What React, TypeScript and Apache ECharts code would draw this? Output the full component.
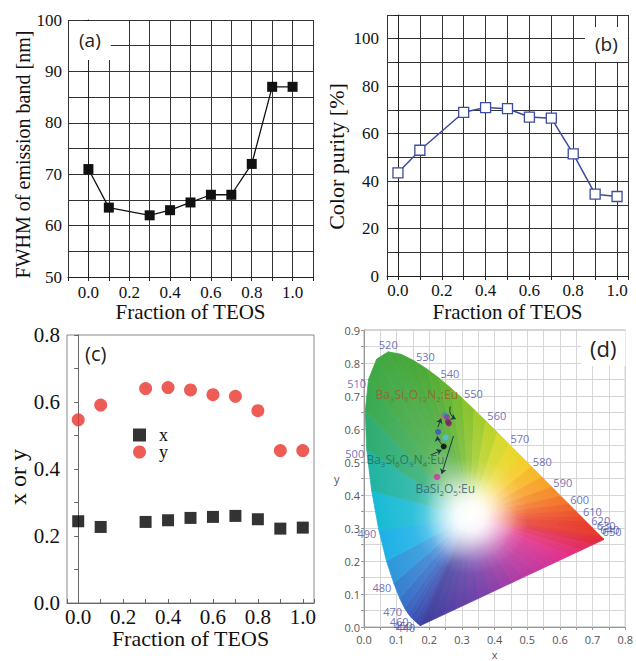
import React, { useEffect, useRef } from 'react';
import * as echarts from 'echarts';

// ---------- data: panels (a)-(c) ----------
const teos = [0.0, 0.1, 0.3, 0.4, 0.5, 0.6, 0.7, 0.8, 0.9, 1.0];
const fwhm = [71, 63.5, 62, 63, 64.5, 66, 66, 72, 87, 87];
const colorPurity = [43.5, 53, 69, 71, 70.5, 67, 66.5, 51.5, 34.5, 33.5];
const cieX = [0.244, 0.227, 0.242, 0.247, 0.254, 0.257, 0.26, 0.25, 0.222, 0.225];
const cieY = [0.547, 0.591, 0.64, 0.643, 0.636, 0.622, 0.617, 0.574, 0.455, 0.455];
const pointColors = ['#000000', '#3f4fc2', '#e8645c', '#1fa3a8', '#8c3c9e', '#7a2a78', '#8a1c5c', '#45c6ee', '#c24aa2', '#c24aa2'];

// ---------- tick labels ----------
const fracTicks = [0.0, 0.2, 0.4, 0.6, 0.8, 1.0];
const fwhmTicks = [50, 60, 70, 80, 90, 100];
const purityTicks = [0, 20, 40, 60, 80, 100];
const xyTicks = [0.0, 0.2, 0.4, 0.6, 0.8];
const cieXTicks = [0.0, 0.1, 0.2, 0.3, 0.4, 0.5, 0.6, 0.7, 0.8];
const cieYTicks = [0.0, 0.1, 0.2, 0.3, 0.4, 0.5, 0.6, 0.7, 0.8, 0.9];

// ---------- CIE 1931 spectral locus ----------
const wavelengths = [380, 400, 420, 440, 450, 460, 465, 470, 475, 480, 485, 490, 495, 500, 505, 510, 515, 520, 525, 530, 535, 540, 545, 550, 555, 560, 565, 570, 575, 580, 585, 590, 595, 600, 605, 610, 615, 620, 625, 630, 635, 640, 645, 650, 660, 680, 700];
const locusX = [0.1741, 0.1733, 0.1714, 0.1644, 0.1566, 0.1440, 0.1355, 0.1241, 0.1096, 0.0913, 0.0687, 0.0454, 0.0235, 0.0082, 0.0039, 0.0139, 0.0389, 0.0743, 0.1142, 0.1547, 0.1929, 0.2296, 0.2658, 0.3016, 0.3373, 0.3731, 0.4087, 0.4441, 0.4788, 0.5125, 0.5448, 0.5752, 0.6029, 0.6270, 0.6482, 0.6658, 0.6801, 0.6915, 0.7006, 0.7079, 0.7140, 0.7190, 0.7230, 0.7260, 0.7300, 0.7334, 0.7347];
const locusY = [0.0050, 0.0048, 0.0051, 0.0109, 0.0177, 0.0297, 0.0399, 0.0578, 0.0868, 0.1327, 0.2007, 0.2950, 0.4127, 0.5384, 0.6548, 0.7502, 0.8120, 0.8338, 0.8262, 0.8059, 0.7816, 0.7543, 0.7243, 0.6923, 0.6589, 0.6245, 0.5896, 0.5547, 0.5202, 0.4866, 0.4544, 0.4242, 0.3965, 0.3725, 0.3514, 0.3340, 0.3197, 0.3083, 0.2993, 0.2920, 0.2859, 0.2809, 0.2770, 0.2740, 0.2700, 0.2666, 0.2653];
const leftWl = [440, 450, 460, 470, 480, 490, 500, 510];
const topWl = [520];
const rightWl = [530, 540, 550, 560, 570, 580, 590, 600, 610, 620, 630, 640, 650];

// ---------- annotations in panel (d) ----------
const compoundText = [
  '{m|Ba}{s|3}{m|Si}{s|6}{m|O}{s|12}{m|N}{s|2}{m|:Eu}',
  '{m|Ba}{s|3}{m|Si}{s|6}{m|O}{s|9}{m|N}{s|4}{m|:Eu}',
  '{m|BaSi}{s|2}{m|O}{s|5}{m|:Eu}',
];
const compoundX = [0.037, 0.009, 0.159];
const compoundY = [0.702, 0.506, 0.419];
const compoundColors = ['#9c5a2c', '#1d6b58', '#2c5866'];
const arrowFrom = [[0.204, 0.521], [0.238, 0.554], [0.226, 0.605], [0.264, 0.668], [0.274, 0.579]];
const arrowTo = [[0.238, 0.536], [0.224, 0.578], [0.236, 0.632], [0.281, 0.630], [0.238, 0.464]];
const arrowCurve = [0, 0.2, 0, -0.4, 0];

// ---------- styles ----------
const SERIF = 'Liberation Serif, Times New Roman, serif';
const SANS = 'Open Sans, Noto Sans, sans-serif';
const whitePoint = [0.325, 0.335];
const whiteRadiusPx = 58;
const purpleSteps = 16;
const specAnchors: [number, string][] = [
  [380, '#3a3e9c'], [440, '#3b48aa'], [460, '#3a58b8'], [470, '#3868c4'], [480, '#3488d4'],
  [485, '#26a6e2'], [490, '#16bcea'], [495, '#1cb8c0'], [500, '#26ae86'], [505, '#34aa5c'],
  [510, '#3ea844'], [530, '#46a838'], [540, '#58b032'], [550, '#7cbe2c'], [560, '#aed02a'],
  [570, '#e4dc2c'], [578, '#f6cc2a'], [585, '#f8ae2a'], [595, '#f4802a'], [605, '#ee5a2a'],
  [620, '#e63a2a'], [700, '#e02a2a'],
];
const purpleAnchors: [number, string][] = [
  [0, '#e22a34'], [0.2, '#e2308c'], [0.45, '#b43ca4'], [0.7, '#6e42aa'], [1, '#3a3e9c'],
];

function hexToRgb(h: string) {
  const n = parseInt(h.slice(1), 16);
  return [(n >> 16) & 255, (n >> 8) & 255, n & 255];
}
function mixRgb(a: number[], b: number[], t: number) {
  return a.map((v, i) => v + (b[i] - v) * t);
}
function rgbStr(c: number[]) {
  return `rgb(${c.map((v) => Math.round(v)).join(',')})`;
}
function anchorColor(anchors: [number, string][], v: number) {
  for (let k = 0; k < anchors.length - 1; k++) {
    const [w0, c0] = anchors[k];
    const [w1, c1] = anchors[k + 1];
    if (v >= w0 && v <= w1) return mixRgb(hexToRgb(c0), hexToRgb(c1), (v - w0) / (w1 - w0));
  }
  return hexToRgb(anchors[anchors.length - 1][1]);
}
function fanStops(c: number[]) {
  const w = [255, 255, 255];
  return [
    { offset: 0, color: rgbStr(mixRgb(w, c, 0.35)) },
    { offset: 0.45, color: rgbStr(mixRgb(w, c, 0.86)) },
    { offset: 1, color: rgbStr(c) },
  ];
}
function foot(W: number[], A: number[], B: number[]) {
  const dx = B[0] - A[0];
  const dy = B[1] - A[1];
  const L = dx * dx + dy * dy;
  if (L < 9) return [(A[0] + B[0]) / 2, (A[1] + B[1]) / 2];
  const t = ((W[0] - A[0]) * dx + (W[1] - A[1]) * dy) / L;
  return [A[0] + t * dx, A[1] + t * dy];
}
const tickFmt = (ticks: number[], digits: number) => (v: number) =>
  ticks.some((t) => Math.abs(t - v) < 1e-6) ? v.toFixed(digits) : '';

// rendering segments of the horseshoe boundary (spectral locus + line of purples)
type Seg = { a: number[]; b: number[]; c: number[] };
function buildSegments(): Seg[] {
  const segs: Seg[] = [];
  const n = wavelengths.length;
  for (let i = 0; i < n - 1; i++) {
    segs.push({
      a: [locusX[i], locusY[i]],
      b: [locusX[i + 1], locusY[i + 1]],
      c: anchorColor(specAnchors, (wavelengths[i] + wavelengths[i + 1]) / 2),
    });
  }
  const red = [locusX[n - 1], locusY[n - 1]];
  const violet = [locusX[0], locusY[0]];
  for (let k = 0; k < purpleSteps; k++) {
    const t0 = k / purpleSteps;
    const t1 = (k + 1) / purpleSteps;
    segs.push({
      a: [red[0] + (violet[0] - red[0]) * t0, red[1] + (violet[1] - red[1]) * t0],
      b: [red[0] + (violet[0] - red[0]) * t1, red[1] + (violet[1] - red[1]) * t1],
      c: anchorColor(purpleAnchors, (t0 + t1) / 2),
    });
  }
  return segs;
}

function wlSeries(list: number[], label: any) {
  return {
    type: 'scatter', xAxisIndex: 3, yAxisIndex: 3, z: 6, silent: true,
    symbolSize: 1, itemStyle: { color: 'rgba(0,0,0,0)' },
    data: list.map((w) => {
      const i = wavelengths.indexOf(w);
      return [locusX[i], locusY[i], w];
    }),
    label: {
      show: true, formatter: (p: any) => String(p.value[2]),
      fontFamily: SANS, fontSize: 11, color: '#4b4bab', ...label,
    },
  };
}

function buildOption(): any {
  const segs = buildSegments();
  const serifAxis = (size: number) => ({ fontFamily: SERIF, fontSize: size, color: '#111' });

  const fieldSeries = {
    type: 'custom',
    xAxisIndex: 3,
    yAxisIndex: 3,
    z: 1,
    silent: true,
    data: [...segs.map((s) => s.a), whitePoint],
    renderItem: (params: any, api: any) => {
      const W = api.coord(whitePoint);
      if (params.dataIndex >= segs.length) {
        const glow = new echarts.graphic.RadialGradient(W[0], W[1], whiteRadiusPx, [
          { offset: 0, color: 'rgba(255,255,255,1)' },
          { offset: 0.25, color: 'rgba(255,255,255,0.9)' },
          { offset: 0.55, color: 'rgba(255,255,255,0.45)' },
          { offset: 0.8, color: 'rgba(255,255,255,0.12)' },
          { offset: 1, color: 'rgba(255,255,255,0)' },
        ], true);
        return { type: 'circle', shape: { cx: W[0], cy: W[1], r: whiteRadiusPx }, style: { fill: glow } };
      }
      const s = segs[params.dataIndex];
      const A = api.coord(s.a);
      const B = api.coord(s.b);
      const F = foot(W, A, B);
      const grad = new echarts.graphic.LinearGradient(W[0], W[1], F[0], F[1], fanStops(s.c), true);
      return {
        type: 'polygon',
        shape: { points: [W, A, B] },
        style: { fill: grad, stroke: grad, lineWidth: 0.8 },
      };
    },
  };

  return {
    animation: false,
    backgroundColor: '#ffffff',
    title: [
      { text: '(a)', left: 69, top: 21, backgroundColor: '#fff', padding: [9, 10, 11, 10], textStyle: { fontFamily: SANS, fontSize: 19, fontWeight: 'normal', color: '#222' } },
      { text: '(b)', left: 585, top: 27, backgroundColor: '#fff', padding: [7, 10, 9, 10], textStyle: { fontFamily: SANS, fontSize: 19, fontWeight: 'normal', color: '#222' } },
      { text: '(c)', left: 80, top: 338, textStyle: { fontFamily: SANS, fontSize: 20, fontWeight: 'normal', color: '#222' } },
      { text: '(d)', left: 581, top: 331, backgroundColor: '#fff', padding: [6, 9, 7, 9], textStyle: { fontFamily: SANS, fontSize: 22, fontWeight: 'normal', color: '#222' } },
    ],
    legend: {
      data: ['x', 'y'],
      left: 128,
      top: 421,
      orient: 'vertical',
      itemWidth: 13,
      itemHeight: 13,
      itemGap: -1,
      selectedMode: false,
      textStyle: { fontFamily: SERIF, fontSize: 18, color: '#111', padding: [0, 0, 0, 8] },
    },
    grid: [
      { left: 68, top: 20, width: 245, height: 257 },
      { left: 387, top: 15, width: 241, height: 261 },
      { left: 67, top: 335, width: 247, height: 268, show: true, borderColor: '#888', borderWidth: 1 },
      { left: 364, top: 330, width: 262, height: 299, show: true, borderColor: '#aaa', borderWidth: 1 },
    ],
    xAxis: [
      {
        gridIndex: 0, type: 'value', min: -0.1, max: 1.1, interval: 0.1,
        axisLine: { lineStyle: { color: '#222' } },
        axisTick: { show: true, length: 4, lineStyle: { color: '#222' } },
        splitLine: { show: true, lineStyle: { color: '#333', width: 1 } },
        axisLabel: { ...serifAxis(17), margin: 7, formatter: tickFmt(fracTicks, 1) },
        name: 'Fraction of TEOS', nameLocation: 'middle', nameGap: 24, nameTextStyle: serifAxis(21),
      },
      {
        gridIndex: 1, type: 'value', min: -0.05, max: 1.05, minInterval: 0.1, maxInterval: 0.1, splitNumber: 11,
        axisLine: { lineStyle: { color: '#222' } },
        axisTick: { show: true, length: 4, lineStyle: { color: '#222' } },
        splitLine: { show: true, lineStyle: { color: '#333', width: 1 } },
        axisLabel: { ...serifAxis(17), margin: 6, formatter: tickFmt(fracTicks, 1) },
        name: 'Fraction of TEOS', nameLocation: 'middle', nameGap: 25, nameTextStyle: serifAxis(21),
      },
      {
        gridIndex: 2, type: 'value', min: -0.05, max: 1.05, minInterval: 0.1, maxInterval: 0.1, splitNumber: 11,
        axisLine: { lineStyle: { color: '#666' } },
        axisTick: { show: true, inside: true, length: 4, lineStyle: { color: '#666' } },
        splitLine: { show: false },
        axisLabel: { ...serifAxis(21), margin: 3, formatter: tickFmt(fracTicks, 1) },
        name: 'Fraction of TEOS', nameLocation: 'middle', nameGap: 24, nameTextStyle: serifAxis(22),
      },
      {
        gridIndex: 3, type: 'value', min: 0, max: 0.8, interval: 0.05,
        axisLine: { lineStyle: { color: '#999' } },
        axisTick: { show: true, length: 3, lineStyle: { color: '#999' } },
        splitLine: { show: true, lineStyle: { color: '#d6d6d6', width: 1 } },
        axisLabel: { fontFamily: SANS, fontSize: 11, color: '#555', margin: 7, formatter: tickFmt(cieXTicks, 1) },
        name: 'x', nameLocation: 'middle', nameGap: 22, nameTextStyle: { fontFamily: SANS, fontSize: 11, color: '#555' },
      },
    ],
    yAxis: [
      {
        gridIndex: 0, type: 'value', min: 50, max: 100, interval: 5,
        axisLine: { lineStyle: { color: '#222' } },
        axisTick: { show: true, length: 4, lineStyle: { color: '#222' } },
        splitLine: { show: true, lineStyle: { color: '#333', width: 1 } },
        axisLabel: { ...serifAxis(17), margin: 6, formatter: tickFmt(fwhmTicks, 0) },
        name: 'FWHM of emission band [nm]', nameLocation: 'middle', nameRotate: 90, nameGap: 35,
        nameTextStyle: { ...serifAxis(20), padding: [0, 12, 0, 0] },
      },
      {
        gridIndex: 1, type: 'value', min: 0, max: 110, interval: 10,
        axisLine: { lineStyle: { color: '#222' } },
        axisTick: { show: true, length: 4, lineStyle: { color: '#222' } },
        splitLine: { show: true, lineStyle: { color: '#333', width: 1 } },
        axisLabel: { ...serifAxis(17), margin: 8, formatter: tickFmt(purityTicks, 0) },
        name: 'Color purity [%]', nameLocation: 'middle', nameRotate: 90, nameGap: 40,
        nameTextStyle: { ...serifAxis(22), padding: [0, 22, 0, 0] },
      },
      {
        gridIndex: 2, type: 'value', min: 0, max: 0.8, interval: 0.1,
        axisLine: { lineStyle: { color: '#666' } },
        axisTick: { show: true, length: 4, lineStyle: { color: '#666' } },
        splitLine: { show: false },
        axisLabel: { ...serifAxis(21), margin: 7, formatter: tickFmt(xyTicks, 1) },
        name: 'x or y', nameLocation: 'middle', nameRotate: 90, nameGap: 37,
        nameTextStyle: { ...serifAxis(24), padding: [0, 16, 0, 0] },
      },
      {
        gridIndex: 3, type: 'value', min: 0, max: 0.9, interval: 0.05,
        axisLine: { lineStyle: { color: '#999' } },
        axisTick: { show: true, length: 3, lineStyle: { color: '#999' } },
        splitLine: { show: true, lineStyle: { color: '#d6d6d6', width: 1 } },
        axisLabel: { fontFamily: SANS, fontSize: 11, color: '#555', margin: 4, formatter: tickFmt(cieYTicks, 1) },
        name: 'y', nameLocation: 'middle', nameRotate: 0, nameGap: 24, nameTextStyle: { fontFamily: SANS, fontSize: 11, color: '#555' },
      },
    ],
    series: [
      {
        name: 'FWHM', type: 'line', xAxisIndex: 0, yAxisIndex: 0, z: 5,
        data: teos.map((t, i) => [t, fwhm[i]]),
        symbol: 'rect', symbolSize: 10,
        itemStyle: { color: '#111' },
        lineStyle: { color: '#111', width: 1.3 },
      },
      {
        name: 'Color purity', type: 'line', xAxisIndex: 1, yAxisIndex: 1, z: 5,
        data: teos.map((t, i) => [t, colorPurity[i]]),
        symbol: 'rect', symbolSize: 10, showAllSymbol: true,
        itemStyle: { color: '#ffffff', borderColor: '#3d4b9e', borderWidth: 1.3 },
        lineStyle: { color: '#3d4b9e', width: 1.5 },
      },
      {
        name: 'x', type: 'scatter', xAxisIndex: 2, yAxisIndex: 2,
        data: teos.map((t, i) => [t, cieX[i]]),
        symbol: 'rect', symbolSize: 12,
        itemStyle: { color: '#000000' },
      },
      {
        name: 'y', type: 'scatter', xAxisIndex: 2, yAxisIndex: 2,
        data: teos.map((t, i) => [t, cieY[i]]),
        symbol: 'circle', symbolSize: 13,
        itemStyle: { color: '#e8332a' },
      },
      fieldSeries,
      wlSeries(leftWl, { position: 'left', distance: 2, offset: [0, 4] }),
      wlSeries(topWl, { position: 'top', distance: 1 }),
      wlSeries(rightWl, { position: 'right', distance: 1, offset: [0, -5] }),
      {
        name: 'compounds', type: 'scatter', xAxisIndex: 3, yAxisIndex: 3, z: 7, silent: true,
        symbolSize: 1, itemStyle: { color: 'rgba(0,0,0,0)' },
        data: compoundText.map((t, i) => ({
          value: [compoundX[i], compoundY[i]],
          label: {
            show: true, position: [0, 0], align: 'left', verticalAlign: 'middle',
            formatter: t,
            rich: {
              m: { fontFamily: SANS, fontSize: 12, color: compoundColors[i] },
              s: { fontFamily: SANS, fontSize: 8, color: compoundColors[i], padding: [8, 0, 0, 0] },
            },
          },
        })),
      },
      {
        name: 'arrows', type: 'lines', coordinateSystem: 'cartesian2d', xAxisIndex: 3, yAxisIndex: 3, z: 7, silent: true,
        symbol: ['none', 'arrow'], symbolSize: 5,
        lineStyle: { color: '#1d3b44', width: 1, opacity: 1 },
        data: arrowFrom.map((f, i) => ({ coords: [f, arrowTo[i]], lineStyle: { curveness: arrowCurve[i] } })),
      },
      {
        name: 'CIE points', type: 'scatter', xAxisIndex: 3, yAxisIndex: 3, z: 8,
        symbolSize: 6,
        data: cieX.map((x, i) => ({ value: [x, cieY[i]], itemStyle: { color: pointColors[i] } })),
      },
    ],
  };
}

export default function App() {
  const ref = useRef<HTMLDivElement>(null);
  useEffect(() => {
    document.body.style.margin = '0';
    if (!ref.current) return;
    const chart = echarts.init(ref.current, null, { renderer: 'svg', width: 636, height: 661 });
    chart.setOption(buildOption());
    return () => chart.dispose();
  }, []);
  return <div ref={ref} style={{ width: 636, height: 661, background: '#fff' }} />;
}
